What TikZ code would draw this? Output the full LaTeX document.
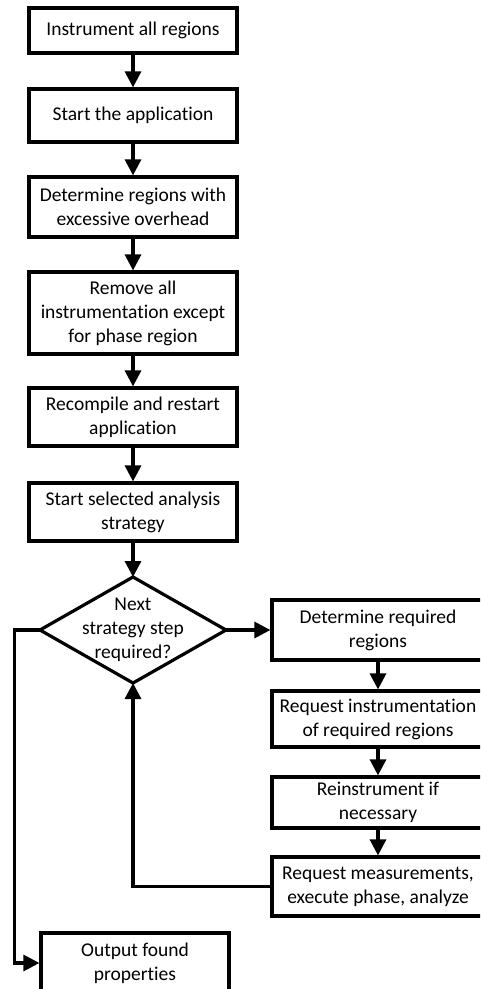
\documentclass[tikz,border=0pt]{standalone}
\usepackage{fontspec}
\setmainfont{Carlito}[RawFeature={-liga;-clig;-calt;-dlig}]
\usetikzlibrary{arrows.meta,shapes.geometric}
\begin{document}
\begin{tikzpicture}[x=1pt,y=-1pt,
  every node/.style={font=\fontsize{19.5}{24}\selectfont, inner sep=0pt, align=center},
  stepbox/.style={draw, line width=3.2pt, rectangle, minimum width=208pt},
  flow/.style={line width=3.2pt, -{Triangle[length=16pt,width=16pt]}},
  plainline/.style={line width=3.2pt}
]
\useasboundingbox (0,0) rectangle (480,989);
\clip (0,0) rectangle (480,989);
\node[stepbox, minimum height=45pt] (b1) at (133,30.5) {Instrument all regions};
\node[stepbox, minimum height=53pt] (b2) at (133,115.5) {Start the application};
\node[stepbox, minimum height=60pt] (b3) at (133,207) {Determine regions with\\excessive overhead};
\node[stepbox, minimum height=82pt] (b4) at (133,313) {Remove all\\instrumentation except\\for phase region};
\node[stepbox, minimum height=58pt] (b5) at (133,417) {Recompile and restart\\application};
\node[stepbox, minimum height=58pt] (b6) at (133,512) {Start selected analysis\\strategy};
\draw[plainline] (40,630) coordinate (dl) -- (133,577) coordinate (dt) -- (226,630) coordinate (dr) -- (133,683) coordinate (db) -- cycle;
\node (dia) at (133,630) {Next\\strategy step\\required?};
\node[stepbox, minimum width=212pt, minimum height=60pt] (r1) at (378,630) {Determine required\\regions};
\node[stepbox, minimum width=212pt, minimum height=56pt] (r2) at (378,719) {Request instrumentation\\of required regions};
\node[stepbox, minimum width=212pt, minimum height=51pt] (r3) at (378,802.5) {Reinstrument if\\necessary};
\node[stepbox, minimum width=212pt, minimum height=59pt] (r4) at (378,886.5) {Request measurements,\\execute phase, analyze};
\node[stepbox, minimum width=188pt, minimum height=60pt] (out) at (135,963) {Output found\\properties};
\draw[flow] (b1) -- (b2);
\draw[flow] (b2) -- (b3);
\draw[flow] (b3) -- (b4);
\draw[flow] (b4) -- (b5);
\draw[flow] (b5) -- (b6);
\draw[flow] (b6) -- (dt);
\draw[flow] (dr) -- (r1.west);
\draw[flow] (r1) -- (r2);
\draw[flow] (r2) -- (r3);
\draw[flow] (r3) -- (r4);
\draw[flow] (r4.west) -| (db);
\coordinate (lc) at (13,630);
\draw[plainline] (dl) -- (lc);
\draw[flow] ([xshift=1.6pt]lc) |- (out.west);
\end{tikzpicture}
\end{document}
